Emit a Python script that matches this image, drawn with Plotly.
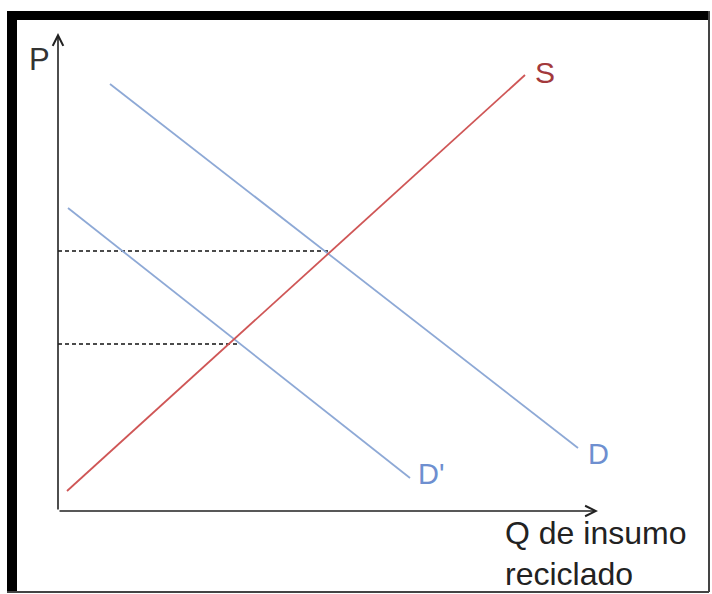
import plotly.graph_objects as go

# Economic data (Q, P)
supply_q = [0.9, 46.7]
supply_p = [2.0, 43.6]
demand_q = [5.2, 52.0]
demand_p = [42.7, 6.3]
demand2_q = [1.0, 35.2]
demand2_p = [30.3, 3.3]
eq_high_q = [0.0, 27.2]
eq_high_p = [26.0, 26.0]
eq_low_q = [0.0, 18.0]
eq_low_p = [16.7, 16.7]
axis_q_max = 54.0
axis_p_max = 47.8

W, H = 712, 594
X_RANGE = [-5.8, 65.4]
Y_RANGE = [-8.3, 51.1]

RED = "#cf5656"
BLUE = "#8ea9d6"
BLUE_TXT = "#6e8fd0"
RED_TXT = "#a3393c"
FONT = "Liberation Sans, Arial, sans-serif"

fig = go.Figure()
fig.add_trace(go.Scatter(x=eq_high_q, y=eq_high_p, mode="lines",
                         line=dict(color="#111", width=1.4, dash="4px,3px"), hoverinfo="skip"))
fig.add_trace(go.Scatter(x=eq_low_q, y=eq_low_p, mode="lines",
                         line=dict(color="#111", width=1.4, dash="4px,3px"), hoverinfo="skip"))
fig.add_trace(go.Scatter(x=demand_q, y=demand_p, mode="lines",
                         line=dict(color=BLUE, width=1.8), hoverinfo="skip"))
fig.add_trace(go.Scatter(x=demand2_q, y=demand2_p, mode="lines",
                         line=dict(color=BLUE, width=1.8), hoverinfo="skip"))
fig.add_trace(go.Scatter(x=supply_q, y=supply_p, mode="lines",
                         line=dict(color=RED, width=1.8), hoverinfo="skip"))

def px_x(v):
    return v / W

def px_y(v):
    return 1 - v / H

shapes = [
    dict(type="rect", xref="paper", yref="paper", x0=px_x(7), x1=px_x(709), y0=px_y(20), y1=px_y(11),
         fillcolor="black", line=dict(width=0)),
    dict(type="rect", xref="paper", yref="paper", x0=px_x(7), x1=px_x(17), y0=px_y(592), y1=px_y(11),
         fillcolor="black", line=dict(width=0)),
    dict(type="line", xref="paper", yref="paper", x0=px_x(709), x1=px_x(709), y0=px_y(592), y1=px_y(11),
         line=dict(color="#444", width=2)),
    dict(type="line", xref="paper", yref="paper", x0=px_x(7), x1=px_x(709), y0=px_y(592), y1=px_y(592),
         line=dict(color="#444", width=2)),
]

annotations = [
    # axes arrows
    dict(x=0, y=axis_p_max, ax=0, ay=0, xref="x", yref="y", axref="x", ayref="y",
         showarrow=True, arrowhead=5, arrowsize=1.3, arrowwidth=1.6, arrowcolor="#222", text=""),
    dict(x=axis_q_max, y=0, ax=0, ay=0, xref="x", yref="y", axref="x", ayref="y",
         showarrow=True, arrowhead=5, arrowsize=1.3, arrowwidth=1.6, arrowcolor="#222", text=""),
    dict(x=-1.85, y=45.2, xref="x", yref="y", text="P", showarrow=False,
         font=dict(family=FONT, size=31, color="#333")),
    dict(x=48.7, y=43.9, xref="x", yref="y", text="S", showarrow=False,
         font=dict(family=FONT, size=30, color=RED_TXT)),
    dict(x=54.0, y=5.7, xref="x", yref="y", text="D", showarrow=False,
         font=dict(family=FONT, size=29, color=BLUE_TXT)),
    dict(x=37.3, y=3.7, xref="x", yref="y", text="D'", showarrow=False,
         font=dict(family=FONT, size=29, color=BLUE_TXT)),
    dict(x=44.5, y=-2.2, xref="x", yref="y", text="Q de insumo", showarrow=False,
         xanchor="left", yanchor="middle", font=dict(family=FONT, size=32, color="#222")),
    dict(x=44.5, y=-6.3, xref="x", yref="y", text="reciclado", showarrow=False,
         xanchor="left", yanchor="middle", font=dict(family=FONT, size=32, color="#222")),
]

fig.update_layout(
    width=W, height=H,
    margin=dict(l=0, r=0, t=0, b=0),
    paper_bgcolor="white", plot_bgcolor="white",
    showlegend=False,
    xaxis=dict(range=X_RANGE, visible=False, fixedrange=True),
    yaxis=dict(range=Y_RANGE, visible=False, fixedrange=True),
    shapes=shapes,
    annotations=annotations,
)

fig.write_html("out.html", config={"displayModeBar": False},
               post_script="document.body.style.margin='0';document.body.style.overflow='hidden';")
